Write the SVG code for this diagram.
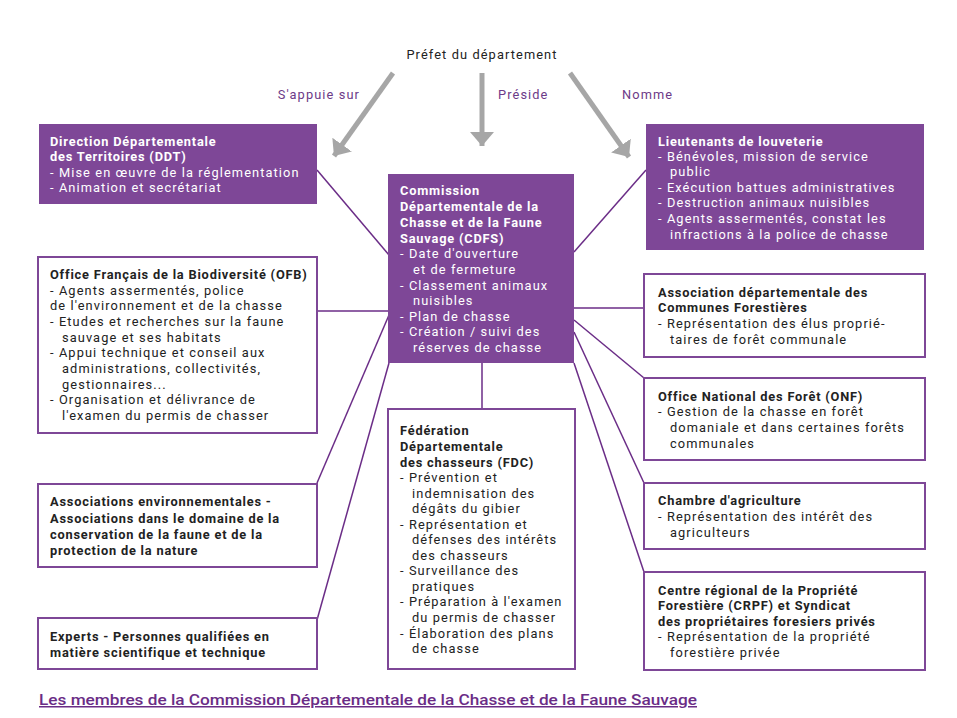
<svg xmlns="http://www.w3.org/2000/svg" width="957" height="718" viewBox="0 0 957 718">
<defs>
<marker id="ah" markerUnits="userSpaceOnUse" markerWidth="26" markerHeight="26" refX="14" refY="12" orient="auto">
<path d="M0,0 L14,12 L0,24 Z" fill="#a6a6a6"/>
</marker>
<style>
text{font-family:Roboto,"Noto Sans","DejaVu Sans",sans-serif;font-size:12.8px;fill:#222;letter-spacing:1.1px}
.b{font-weight:bold;letter-spacing:0.8px}
.w text{fill:#fff}
.fill{fill:#7e4797}
.box{fill:#fff;stroke:#7e4797;stroke-width:2}
.lbl{fill:#6d3a88}
.conn line{stroke:#6b2d87;stroke-width:1.5}
.arr line{stroke:#a6a6a6;stroke-width:5;marker-end:url(#ah)}
</style>
</defs>
<rect width="957" height="718" fill="#fff"/>

<g id="prefet"><text x="482" y="59" text-anchor="middle">Préfet du département</text></g>
<g id="arrows" class="arr">
<line x1="393" y1="73" x2="334" y2="156"/>
<line x1="482" y1="73" x2="482" y2="146"/>
<line x1="570" y1="73" x2="629" y2="157"/>
</g>
<g id="labels">
<text class="lbl" x="360" y="99" text-anchor="end">S'appuie sur</text>
<text class="lbl" x="498" y="99">Préside</text>
<text class="lbl" x="622" y="99">Nomme</text>
</g>

<g id="connectors" class="conn">
<line x1="317" y1="170" x2="389" y2="255"/>
<line x1="317" y1="311" x2="389" y2="311"/>
<line x1="317" y1="483" x2="389" y2="315"/>
<line x1="317" y1="620" x2="389" y2="363"/>
<line x1="646" y1="170" x2="574" y2="252"/>
<line x1="574" y1="308" x2="644" y2="308"/>
<line x1="574" y1="320" x2="644" y2="378"/>
<line x1="574" y1="332" x2="644" y2="483"/>
<line x1="574" y1="363" x2="644" y2="572"/>
<line x1="482" y1="363" x2="482" y2="409"/>
</g>

<g id="ddt" class="w">
<rect class="fill" x="39" y="124" width="278" height="80"/>
<text class="b" x="50" y="146">Direction Départementale</text>
<text class="b" x="50" y="161">des Territoires (DDT)</text>
<text x="50" y="177">- Mise en œuvre de la réglementation</text>
<text x="50" y="192">- Animation et secrétariat</text>
</g>

<g id="lieutenants" class="w">
<rect class="fill" x="646" y="124" width="278" height="126"/>
<text class="b" x="658" y="146">Lieutenants de louveterie</text>
<text x="658" y="161">- Bénévoles, mission de service</text>
<text x="670" y="176">public</text>
<text x="658" y="192">- Exécution battues administratives</text>
<text x="658" y="207">- Destruction animaux nuisibles</text>
<text x="658" y="223">- Agents assermentés, constat les</text>
<text x="670" y="239">infractions à la police de chasse</text>
</g>

<g id="cdfs" class="w">
<rect class="fill" x="388" y="174" width="186" height="189"/>
<text class="b" x="400" y="195">Commission</text>
<text class="b" x="400" y="211">Départementale de la</text>
<text class="b" x="400" y="227">Chasse et de la Faune</text>
<text class="b" x="400" y="243">Sauvage (CDFS)</text>
<text x="400" y="258">- Date d'ouverture</text>
<text x="413" y="274">et de fermeture</text>
<text x="400" y="290">- Classement animaux</text>
<text x="413" y="305">nuisibles</text>
<text x="400" y="321">- Plan de chasse</text>
<text x="400" y="336">- Création / suivi des</text>
<text x="413" y="352">réserves de chasse</text>
</g>

<g id="ofb">
<rect class="box" x="38" y="257" width="279" height="176"/>
<text class="b" x="50" y="279">Office Français de la Biodiversité (OFB)</text>
<text x="50" y="295">- Agents assermentés, police</text>
<text x="50" y="310">de l'environnement et de la chasse</text>
<text x="50" y="326">- Etudes et recherches sur la faune</text>
<text x="62" y="342">sauvage et ses habitats</text>
<text x="50" y="357">- Appui technique et conseil aux</text>
<text x="62" y="373">administrations, collectivités,</text>
<text x="62" y="389">gestionnaires...</text>
<text x="50" y="404">- Organisation et délivrance de</text>
<text x="62" y="420">l'examen du permis de chasser</text>
</g>

<g id="env">
<rect class="box" x="38" y="484" width="279" height="83"/>
<text class="b" x="50" y="506">Associations environnementales -</text>
<text class="b" x="50" y="523">Associations dans le domaine de la</text>
<text class="b" x="50" y="539">conservation de la faune et de la</text>
<text class="b" x="50" y="555">protection de la nature</text>
</g>

<g id="experts">
<rect class="box" x="38" y="618" width="279" height="51"/>
<text class="b" x="50" y="641">Experts - Personnes qualifiées en</text>
<text class="b" x="50" y="657">matière scientifique et technique</text>
</g>

<g id="fdc">
<rect class="box" x="388" y="409" width="187" height="260"/>
<text class="b" x="400" y="435">Fédération</text>
<text class="b" x="400" y="451">Départementale</text>
<text class="b" x="400" y="467">des chasseurs (FDC)</text>
<text x="400" y="482">- Prévention et</text>
<text x="412" y="498">indemnisation des</text>
<text x="412" y="513">dégâts du gibier</text>
<text x="400" y="529">- Représentation et</text>
<text x="412" y="544">défenses des intérêts</text>
<text x="412" y="560">des chasseurs</text>
<text x="400" y="575">- Surveillance des</text>
<text x="412" y="591">pratiques</text>
<text x="400" y="606">- Préparation à l'examen</text>
<text x="412" y="622">du permis de chasser</text>
<text x="400" y="638">- Élaboration des plans</text>
<text x="412" y="653">de chasse</text>
</g>

<g id="communes">
<rect class="box" x="644" y="274" width="281" height="83"/>
<text class="b" x="658" y="297">Association départementale des</text>
<text class="b" x="658" y="312">Communes Forestières</text>
<text x="658" y="328">- Représentation des élus proprié-</text>
<text x="670" y="344">taires de forêt communale</text>
</g>

<g id="onf">
<rect class="box" x="644" y="378" width="281" height="82"/>
<text class="b" x="658" y="401">Office National des Forêt (ONF)</text>
<text x="658" y="416">- Gestion de la chasse en forêt</text>
<text x="670" y="432">domaniale et dans certaines forêts</text>
<text x="670" y="448">communales</text>
</g>

<g id="chambre">
<rect class="box" x="644" y="483" width="281" height="66"/>
<text class="b" x="658" y="505">Chambre d'agriculture</text>
<text x="658" y="521">- Représentation des intérêt des</text>
<text x="670" y="537">agriculteurs</text>
</g>

<g id="crpf">
<rect class="box" x="644" y="572" width="281" height="98"/>
<text class="b" x="658" y="595">Centre régional de la Propriété</text>
<text class="b" x="658" y="610">Forestière (CRPF) et Syndicat</text>
<text class="b" x="658" y="626">des propriétaires foresiers privés</text>
<text x="658" y="641">- Représentation de la propriété</text>
<text x="670" y="657">forestière privée</text>
</g>

<g id="title">
<text x="39" y="705" textLength="658" lengthAdjust="spacingAndGlyphs" style="font-family:Roboto,'Noto Sans',sans-serif;font-size:15px;font-weight:500;fill:#6a2c86;text-decoration:underline;letter-spacing:0">Les membres de la Commission Départementale de la Chasse et de la Faune Sauvage</text>
</g>
</svg>
